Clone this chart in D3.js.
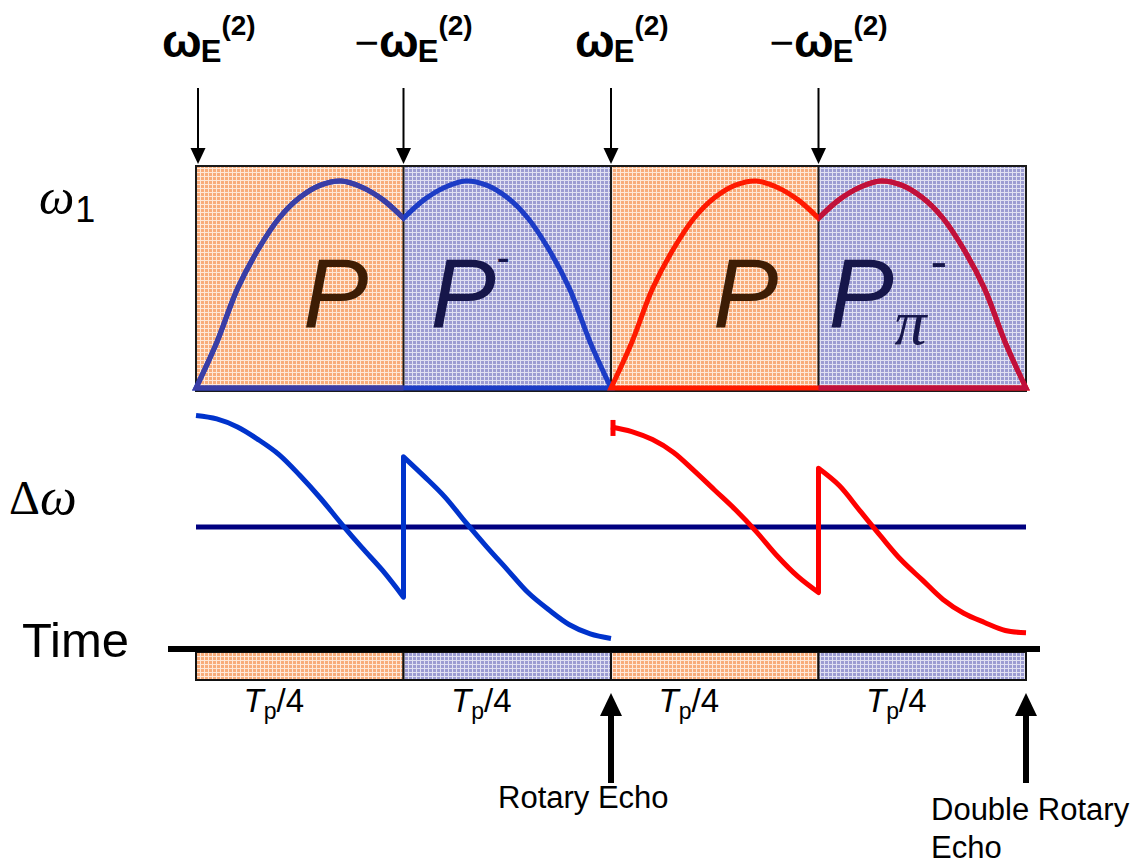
<!DOCTYPE html>
<html>
<head>
<meta charset="utf-8">
<script src="https://cdn.jsdelivr.net/npm/d3@7"></script>
<style>
  body { margin: 0; background: #fff; }
  svg { display: block; }
</style>
</head>
<body>
<svg id="chart" width="1144" height="865"></svg>
<script>
// ---- sequence data -------------------------------------------------------
// four quarter-period segments of the pulse train
const segmentStarts = [0, 1, 2, 3];
const segmentFills = ["orange", "blue", "orange", "blue"];
const pulseNames = ["P", "P", "P", "P"];
const pulseSups = ["", "-", "", "-"];
const pulseSubs = ["", "", "", "π"];

// effective-field labels at each segment boundary
const fieldSigns = ["", "\u2212", "", "\u2212"];
const fieldTimes = [0, 1, 2, 3];

// sampling positions within one quarter period
const sampleT = [0, 0.1, 0.2, 0.3, 0.4, 0.5, 0.6, 0.7, 0.8, 0.9, 1.0];

// ω1 amplitude (normalised): rising quarter and falling quarter
const w1Rise = [0, 0.22, 0.48, 0.67, 0.82, 0.92, 0.98, 1.0, 0.97, 0.91, 0.82];
const w1Fall = [0.82, 0.91, 0.97, 1.0, 0.98, 0.92, 0.82, 0.67, 0.48, 0.22, 0];

// Δω offset (normalised) for each quarter
const dwBlueA = [0.97, 0.94, 0.87, 0.76, 0.63, 0.45, 0.25, 0.03, -0.18, -0.38, -0.61];
const dwBlueB = [0.61, 0.44, 0.26, 0.04, -0.17, -0.37, -0.57, -0.72, -0.85, -0.93, -0.97];
const dwRedA  = [0.87, 0.83, 0.76, 0.65, 0.49, 0.32, 0.15, -0.04, -0.25, -0.43, -0.57];
const dwRedB  = [0.51, 0.36, 0.14, -0.08, -0.29, -0.46, -0.63, -0.75, -0.83, -0.90, -0.92];

// echo markers on the time axis
const echoTimes = [2, 4];
const echoLines = [["Rotary Echo"], ["Double Rotary", "Echo"]];

// ---- layout --------------------------------------------------------------
const SANS = "'Liberation Sans', Arial, Helvetica, sans-serif";
const SERIF = "'Liberation Serif', 'Times New Roman', serif";

const svg = d3.select("#chart");
const x = d3.scaleLinear().domain([0, 4]).range([196, 1026]);
const yW = d3.scaleLinear().domain([0, 1]).range([388, 181]);
const yD = d3.scaleLinear().domain([-1, 1]).range([642, 412]);

const boxTop = 166, boxBottom = 391;
const barTop = 652, barBottom = 680;

// ---- textured fills ------------------------------------------------------
const defs = svg.append("defs");
function texture(id, base, light) {
  const p = defs.append("pattern").attr("id", id)
    .attr("width", 4).attr("height", 4).attr("patternUnits", "userSpaceOnUse");
  p.append("rect").attr("width", 4).attr("height", 4).attr("fill", base);
  p.append("rect").attr("width", 4).attr("height", 1).attr("fill", light);
  p.append("rect").attr("width", 1).attr("height", 4).attr("fill", light);
}
texture("tex-orange", "#f8ac7a", "#fee8d8");
texture("tex-blue", "#9c9cd2", "#e0e0f2");

defs.append("clipPath").attr("id", "clip-first")
  .append("rect").attr("x", 0).attr("y", 0).attr("width", x(1)).attr("height", 865);
defs.append("clipPath").attr("id", "clip-last")
  .append("rect").attr("x", x(3)).attr("y", 0).attr("width", 1144 - x(3)).attr("height", 865);

// ---- ω1 panel ------------------------------------------------------------
svg.append("g").selectAll("rect").data(segmentStarts).join("rect")
  .attr("x", d => x(d)).attr("y", boxTop)
  .attr("width", d => x(d + 1) - x(d)).attr("height", boxBottom - boxTop)
  .attr("fill", (d, i) => `url(#tex-${segmentFills[i]})`);

svg.append("rect")
  .attr("x", x(0)).attr("y", boxTop)
  .attr("width", x(4) - x(0)).attr("height", boxBottom - boxTop)
  .attr("fill", "none").attr("stroke", "#1a1a1a").attr("stroke-width", 2);
svg.append("g").selectAll("line").data([1, 2, 3]).join("line")
  .attr("x1", d => x(d)).attr("x2", d => x(d))
  .attr("y1", boxTop).attr("y2", boxBottom)
  .attr("stroke", "#1a1a1a").attr("stroke-width", 2);

const curveLine = (ys) => d3.line().x(d => x(d[0])).y(d => ys(d[1])).curve(d3.curveCatmullRom);

function joinQuarters(t0, a, b, ys) {
  const l = curveLine(ys);
  const pa = sampleT.map((t, i) => [t0 + t, a[i]]);
  const pb = sampleT.map((t, i) => [t0 + 1 + t, b[i]]);
  return l(pa) + l(pb).replace(/^M/, "L");
}

function hump(t0, colorMain, colorAlt, clipId) {
  const d = joinQuarters(t0, w1Rise, w1Fall, yW) + "Z";
  const g = svg.append("g").attr("fill", "none").attr("stroke-width", 5)
    .attr("stroke-linejoin", "miter").attr("stroke-miterlimit", 6);
  g.append("path").attr("d", d).attr("stroke", colorMain);
  g.append("path").attr("d", d).attr("stroke", colorAlt).attr("clip-path", `url(#${clipId})`);
}
hump(0, "#1c3cc6", "#3a3ea6", "clip-first");
hump(2, "#ff1a00", "#c0103c", "clip-last");

// pulse letters
const pulseOffsets = [113, 33, 108, 16];
const pulseColors = { orange: "#3d1d05", blue: "#16164a" };
segmentStarts.forEach((s, i) => {
  const col = pulseColors[segmentFills[i]];
  const px = x(s) + pulseOffsets[i];
  svg.append("text").attr("x", px - 6).attr("y", 327)
    .attr("font-family", SANS).attr("font-style", "italic")
    .attr("font-size", 98).attr("fill", col).text(pulseNames[i]);
  if (pulseSups[i]) {
    svg.append("text").attr("x", px + (pulseSubs[i] ? 96 : 60)).attr("y", pulseSubs[i] ? 278 : 271)
      .attr("font-family", SANS).attr("font-size", pulseSubs[i] ? 50 : 40).attr("fill", col).text(pulseSups[i]);
  }
  if (pulseSubs[i]) {
    svg.append("text").attr("x", px + 60).attr("y", 344)
      .attr("font-family", SERIF).attr("font-style", "italic")
      .attr("font-size", 64).attr("fill", col).text(pulseSubs[i]);
  }
});

// ---- field labels and arrows on top ---------------------------------------
fieldTimes.forEach((t, i) => {
  const ax = x(t) + (t === 0 ? 2 : 0);
  svg.append("line").attr("x1", ax).attr("x2", ax).attr("y1", 88).attr("y2", 150)
    .attr("stroke", "#000").attr("stroke-width", 2);
  svg.append("path")
    .attr("d", `M${ax - 7.5},148 L${ax + 7.5},148 L${ax},164 Z`).attr("fill", "#000");

  const txt = svg.append("text").attr("y", 57).attr("font-family", SANS).attr("fill", "#000")
    .attr("x", fieldSigns[i] ? ax - 49 : ax - 36);
  if (fieldSigns[i]) txt.append("tspan").attr("font-size", 42).text(fieldSigns[i]);
  txt.append("tspan").attr("font-size", 47).attr("font-weight", "bold").text("ω");
  txt.append("tspan").attr("font-size", 31).attr("font-weight", "bold").attr("dx", -1).attr("dy", 5).text("E");
  txt.append("tspan").attr("font-size", 28).attr("font-weight", "bold").attr("dy", -27).text("(2)");
});

// ---- axis names ----------------------------------------------------------
const w1Label = svg.append("text").attr("x", 39).attr("y", 214).attr("fill", "#000");
w1Label.append("tspan").attr("font-family", SERIF).attr("font-style", "italic").attr("font-size", 50).text("ω");
w1Label.append("tspan").attr("font-family", SANS).attr("font-size", 36).attr("dx", 1).attr("dy", 8).text("1");

const dwLabel = svg.append("text").attr("x", 9).attr("y", 514).attr("fill", "#000")
  .attr("font-family", SERIF).attr("font-size", 48);
dwLabel.append("tspan").text("Δ");
dwLabel.append("tspan").attr("font-style", "italic").attr("font-size", 52).text("ω");

svg.append("text").attr("x", 22).attr("y", 657).attr("font-family", SANS)
  .attr("font-size", 49).attr("fill", "#000").text("Time");

// ---- Δω panel ------------------------------------------------------------
svg.append("line").attr("x1", x(0)).attr("x2", x(4)).attr("y1", yD(0)).attr("y2", yD(0))
  .attr("stroke", "#000080").attr("stroke-width", 5);

svg.append("path").attr("d", joinQuarters(0, dwBlueA, dwBlueB, yD))
  .attr("fill", "none").attr("stroke", "#0033cc").attr("stroke-width", 5)
  .attr("stroke-linejoin", "round");
svg.append("path").attr("d", joinQuarters(2, dwRedA, dwRedB, yD))
  .attr("fill", "none").attr("stroke", "#ff0000").attr("stroke-width", 5)
  .attr("stroke-linejoin", "round");
svg.append("line")
  .attr("x1", x(2) + 2).attr("x2", x(2) + 2)
  .attr("y1", yD(dwRedA[0]) - 7).attr("y2", yD(dwRedA[0]) + 9)
  .attr("stroke", "#ff0000").attr("stroke-width", 5);

// ---- time bar ------------------------------------------------------------
svg.append("g").selectAll("rect").data(segmentStarts).join("rect")
  .attr("x", d => x(d)).attr("y", barTop)
  .attr("width", d => x(d + 1) - x(d)).attr("height", barBottom - barTop)
  .attr("fill", (d, i) => `url(#tex-${segmentFills[i]})`)
  .attr("stroke", "#111").attr("stroke-width", 2);
svg.append("line").attr("x1", x(0) - 28).attr("x2", x(4) + 14).attr("y1", 649).attr("y2", 649)
  .attr("stroke", "#000").attr("stroke-width", 6);

// duration labels under each segment
segmentStarts.forEach(s => {
  const cx = (x(s) + x(s + 1)) / 2 - 26;
  const t = svg.append("text").attr("x", cx).attr("y", 712).attr("text-anchor", "middle")
    .attr("font-family", SANS).attr("font-size", 33).attr("fill", "#000");
  t.append("tspan").attr("font-style", "italic").text("T");
  t.append("tspan").attr("font-size", 23).attr("dy", 7).text("p");
  t.append("tspan").attr("dy", -7).text("/4");
});

// ---- echo arrows ---------------------------------------------------------
echoTimes.forEach((t, i) => {
  const ax = x(t);
  svg.append("line").attr("x1", ax).attr("x2", ax).attr("y1", 783).attr("y2", 712)
    .attr("stroke", "#000").attr("stroke-width", 6);
  svg.append("path").attr("d", `M${ax - 11},716 L${ax + 11},716 L${ax},693 Z`).attr("fill", "#000");
  const tx = t === 4 ? 931 : ax - 113;
  echoLines[i].forEach((line, j) => {
    svg.append("text").attr("x", tx).attr("y", (t === 4 ? 820 : 808) + j * 38)
      .attr("font-family", SANS).attr("font-size", 31).attr("fill", "#000").text(line);
  });
});
</script>
</body>
</html>
